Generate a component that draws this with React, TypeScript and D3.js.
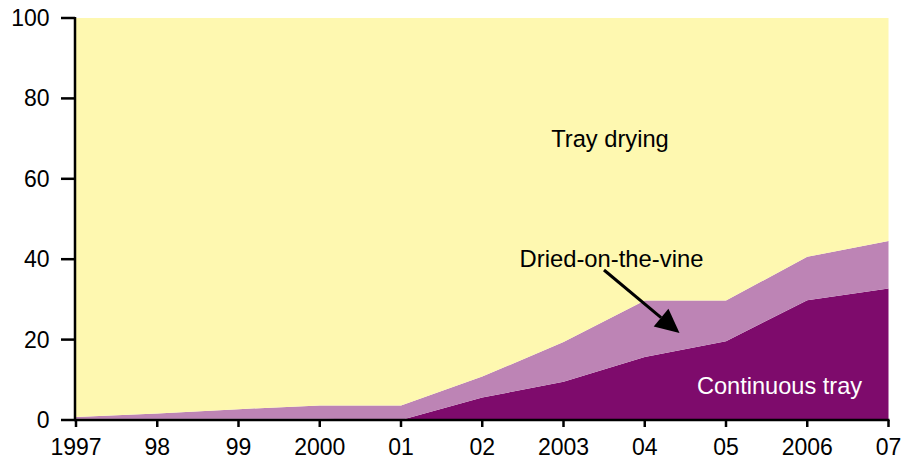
import React from "react";
import * as d3 from "d3";

const years = [1997, 1998, 1999, 2000, 2001, 2002, 2003, 2004, 2005, 2006, 2007];
const xTickLabels = ["1997", "98", "99", "2000", "01", "02", "2003", "04", "05", "2006", "07"];
const yTicks = [0, 20, 40, 60, 80, 100];
const continuousTray = [0.3, 0.3, 0.3, 0.3, 0, 5.6, 9.5, 15.7, 19.6, 29.8, 32.7];
const driedOnTheVine = [0.45, 1.3, 2.4, 3.3, 3.6, 5.2, 9.9, 14.0, 10.1, 10.8, 11.8];
const trayDrying = [99.25, 98.4, 97.3, 96.4, 96.4, 89.2, 80.6, 70.3, 70.3, 59.4, 55.5];

const seriesKeys = ["continuous", "dried", "tray"];
const seriesColors: Record<string, string> = {
  continuous: "#7e0b6c",
  dried: "#bd84b5",
  tray: "#fef8b0",
};

const W = 903;
const H = 459;
const FONT = "'Liberation Sans', Arial, Helvetica, sans-serif";

export default function App() {
  const x = d3.scaleLinear().domain([1997, 2007]).range([76, 888.5]);
  const y = d3.scaleLinear().domain([0, 100]).range([420, 18]);

  const table = years.map((yr, i) => ({
    year: yr,
    continuous: continuousTray[i],
    dried: driedOnTheVine[i],
    tray: trayDrying[i],
  }));
  const stacked = d3.stack<any>().keys(seriesKeys)(table);
  const area = d3
    .area<any>()
    .x((d) => x(d.data.year))
    .y0((d) => y(d[0]))
    .y1((d) => y(d[1]));

  // arrow geometry (annotation)
  const a0 = [604, 270];
  const a1 = [679.5, 333];
  const dx = a1[0] - a0[0];
  const dy = a1[1] - a0[1];
  const len = Math.hypot(dx, dy);
  const ux = dx / len;
  const uy = dy / len;
  const headLen = 24;
  const headHalf = 11.5;
  const bx = a1[0] - ux * headLen;
  const by = a1[1] - uy * headLen;
  const head = [
    [a1[0], a1[1]],
    [bx - uy * headHalf, by + ux * headHalf],
    [bx + uy * headHalf, by - ux * headHalf],
  ];

  return (
    <svg
      width={W}
      height={H}
      style={{ position: "absolute", left: 0, top: 0, background: "#fff" }}
      fontFamily={FONT}
    >
      {stacked.map((s) => (
        <path key={s.key} d={area(s as any) || ""} fill={seriesColors[s.key]} />
      ))}

      {/* annotations */}
      <text x={610} y={147} fontSize={23.7} textAnchor="middle" fill="#000">
        Tray drying
      </text>
      <text x={611.5} y={266.5} fontSize={23.8} textAnchor="middle" fill="#000">
        Dried-on-the-vine
      </text>
      <text x={779.5} y={394} fontSize={23.6} textAnchor="middle" fill="#fff">
        Continuous tray
      </text>
      <line x1={a0[0]} y1={a0[1]} x2={bx} y2={by} stroke="#000" strokeWidth={3} />
      <polygon points={head.map((p) => p.join(",")).join(" ")} fill="#000" />

      {/* y axis */}
      <line x1={75} y1={17} x2={75} y2={421} stroke="#000" strokeWidth={2.5} />
      {yTicks.map((t) => (
        <g key={t}>
          <line x1={61} x2={75} y1={y(t)} y2={y(t)} stroke="#000" strokeWidth={2.5} />
          <text
            x={49.5}
            y={y(t)}
            dy="0.35em"
            fontSize={23}
            textAnchor="end"
            fill="#000"
          >
            {t}
          </text>
        </g>
      ))}

      {/* x axis */}
      <line x1={74} y1={420} x2={889.5} y2={420} stroke="#000" strokeWidth={2.5} />
      {years.map((yr, i) => (
        <g key={yr}>
          <line x1={x(yr)} x2={x(yr)} y1={420} y2={427} stroke="#000" strokeWidth={2.5} />
          <text x={x(yr)} y={455} fontSize={23} textAnchor="middle" fill="#000">
            {xTickLabels[i]}
          </text>
        </g>
      ))}
    </svg>
  );
}
